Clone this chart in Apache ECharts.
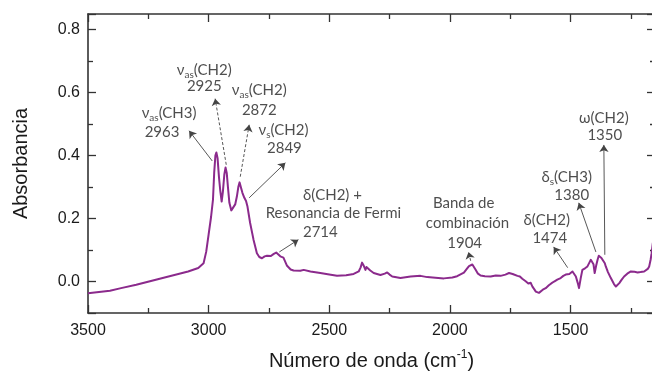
<!DOCTYPE html>
<html><head><meta charset="utf-8">
<script src="https://cdn.jsdelivr.net/npm/echarts@6/dist/echarts.min.js"></script>
<style>html,body{margin:0;padding:0;background:#fff}#c{width:652px;height:372px}</style>
</head><body><div id="c"></div>
<script>
// ---- data ----
const wavenumber = [3500,3409,3363,3300,3223,3150,3085,3043,3021,3010,3000,2990,2982,2977,2972,2968,2963,2957,2952,2946,2941,2935,2930,2925,2920,2914,2906,2898,2890,2883,2877,2872,2866,2860,2852,2845,2839,2828,2814,2800,2790,2779,2768,2758,2750,2742,2730,2720,2712,2703,2690,2675,2660,2648,2620,2606,2578,2537,2500,2468,2430,2399,2378,2370,2364,2357,2350,2346,2340,2330,2316,2288,2270,2260,2250,2239,2205,2163,2122,2094,2060,2025,1990,1970,1942,1930,1921,1907,1900,1894,1885,1873,1855,1831,1810,1790,1770,1755,1748,1740,1732,1720,1710,1700,1686,1675,1665,1658,1650,1644,1638,1631,1625,1615,1603,1590,1580,1568,1555,1541,1530,1520,1513,1505,1492,1485,1478,1470,1465,1458,1451,1440,1430,1422,1416,1410,1405,1400,1394,1388,1383,1379,1372,1365,1358,1354,1345,1333,1320,1312,1305,1298,1288,1278,1265,1250,1235,1222,1210,1195,1180,1174,1168,1164,1159,1150];
const absorbance = [-0.037,-0.029,-0.021,-0.010,0.005,0.019,0.032,0.043,0.058,0.095,0.150,0.205,0.260,0.345,0.400,0.410,0.392,0.330,0.290,0.254,0.285,0.340,0.362,0.345,0.300,0.250,0.226,0.232,0.245,0.270,0.300,0.315,0.312,0.282,0.266,0.256,0.238,0.186,0.133,0.090,0.078,0.074,0.080,0.082,0.078,0.081,0.088,0.092,0.086,0.080,0.076,0.050,0.038,0.035,0.034,0.037,0.032,0.027,0.022,0.018,0.020,0.024,0.032,0.045,0.060,0.050,0.037,0.046,0.042,0.035,0.027,0.021,0.025,0.029,0.022,0.016,0.011,0.016,0.018,0.014,0.012,0.010,0.013,0.017,0.028,0.040,0.049,0.054,0.048,0.038,0.026,0.019,0.017,0.016,0.019,0.018,0.022,0.027,0.030,0.024,0.027,0.018,0.016,0.009,0.001,-0.006,-0.004,-0.016,-0.025,-0.032,-0.038,-0.036,-0.030,-0.026,-0.021,-0.012,-0.006,0.000,0.006,0.011,0.018,0.022,0.027,0.024,0.032,0.028,0.016,-0.005,-0.021,0.010,0.037,0.042,0.048,0.060,0.069,0.071,0.055,0.027,0.050,0.069,0.082,0.088,0.075,0.069,0.058,0.048,0.030,0.011,-0.008,-0.016,-0.012,-0.005,0.006,0.016,0.025,0.032,0.031,0.029,0.030,0.032,0.040,0.048,0.070,0.090,0.122,0.150];

const xTickLabels = [3500, 3000, 2500, 2000, 1500];
const yTickLabels = [0.0, 0.2, 0.4, 0.6, 0.8];

// annotation text lines and their anchor (wavenumber, absorbance)
const annoText = ['{g|ν}{s|as}(CH3)','2963','{g|ν}{s|as}(CH2)','2925','{g|ν}{s|as}(CH2)','2872','{g|ν}{s|s}(CH2)','2849',
  'δ(CH2) +','Resonancia de Fermi','2714','Banda de','combinación','1904','δ(CH2)','1474','δ{s|s}(CH3)','1380','ω(CH2)','1350'];
const annoX = [3164,3193,3018,3018,2790,2790,2690,2686,2487,2483,2537,1943,1927,1939,1599,1586,1516,1495,1362,1358];
const annoY = [0.536,0.476,0.673,0.622,0.609,0.546,0.482,0.425,0.276,0.218,0.158,0.250,0.187,0.123,0.196,0.139,0.333,0.276,0.520,0.466];

// arrows: from (near band) to arrow head (near text)
const arrowFromX = [2985,2927,2869,2832,2707,1914,1512,1395,1358];
const arrowFromY = [0.383,0.371,0.333,0.266,0.094,0.066,0.044,0.094,0.085];
const arrowToX   = [3081,2973,2832,2682,2628,1923,1570,1466,1362];
const arrowToY   = [0.479,0.581,0.498,0.377,0.133,0.094,0.110,0.250,0.434];
const arrowDashed = [false,true,true,false,false,true,false,false,false];

// ---- chart ----
const chart = echarts.init(document.getElementById('c'), null, {renderer: 'canvas'});
const axisColor = '#333333';
const tickStyle = {color: axisColor, width: 1.3};
function xAx(pos, showLabels) {
  return {
    type: 'value', position: pos, min: 1150, max: 3500, inverse: true, splitNumber: 5,
    splitLine: {show: false},
    axisLine: {show: true, onZero: false, lineStyle: {color: axisColor, width: 1.6}},
    axisTick: {show: true, inside: true, length: 8, lineStyle: tickStyle},
    minorTick: {show: true, splitNumber: 2, length: 5, lineStyle: tickStyle},
    minorSplitLine: {show: false},
    axisLabel: showLabels ? {
      show: true, color: '#1a1a1a', fontSize: 16, fontFamily: 'Liberation Sans', margin: 10,
      formatter: v => xTickLabels.indexOf(v) >= 0 ? String(v) : ''
    } : {show: false}
  };
}
function yAx(pos, showLabels) {
  return {
    type: 'value', position: pos, min: -0.1, max: 0.85, splitNumber: 5,
    splitLine: {show: false},
    axisLine: {show: true, onZero: false, lineStyle: {color: axisColor, width: 1.6}},
    axisTick: {show: true, inside: true, length: 8, lineStyle: tickStyle},
    minorTick: {show: true, splitNumber: 2, length: 5, lineStyle: tickStyle},
    minorSplitLine: {show: false},
    axisLabel: showLabels ? {
      show: true, color: '#1a1a1a', fontSize: 16, fontFamily: 'Liberation Sans', margin: 8,
      formatter: v => yTickLabels.some(t => Math.abs(t - v) < 1e-9) ? v.toFixed(1) : ''
    } : {show: false}
  };
}
const xBottom = xAx('bottom', true);
xBottom.name = '{t|Número de onda (cm}{p|-1}{t|)}';
xBottom.nameLocation = 'middle';
xBottom.nameGap = 36;
xBottom.nameTextStyle = {rich: {
  t: {fontSize: 20, fontFamily: 'Liberation Sans', color: '#1a1a1a', lineHeight: 24},
  p: {fontSize: 12, fontFamily: 'Liberation Sans', color: '#1a1a1a', verticalAlign: 'top', lineHeight: 24}
}};
const yLeft = yAx('left', true);
yLeft.name = 'Absorbancia';
yLeft.nameLocation = 'middle';
yLeft.nameGap = 57;
yLeft.nameTextStyle = {fontSize: 20, fontFamily: 'Liberation Sans', color: '#1a1a1a'};

const annoFont = 'Lato';
const annoColor = '#222222';
const lines = arrowFromX.map((x, i) => [
  {coord: [x, arrowFromY[i]], symbol: 'none', lineStyle: {type: arrowDashed[i] ? [3, 2] : 'solid'}},
  {coord: [arrowToX[i], arrowToY[i]], symbol: 'arrow', symbolSize: 7}
]);

chart.setOption({
  animation: false,
  grid: {left: 88, right: -3, top: 14, bottom: 59, containLabel: false, outerBoundsMode: 'none'},
  xAxis: [xBottom, xAx('top', false)],
  yAxis: [yLeft, yAx('right', false)],
  series: [
    {
      type: 'line', xAxisIndex: 0, yAxisIndex: 0, showSymbol: false, symbol: 'none',
      data: wavenumber.map((w, i) => [w, absorbance[i]]),
      lineStyle: {color: '#8b2a8c', width: 2, join: 'round'}, z: 3
    },
    {
      type: 'scatter', xAxisIndex: 0, yAxisIndex: 0, symbolSize: 0, silent: true, z: 5,
      data: annoText.map((t, i) => ({value: [annoX[i], annoY[i]], label: {formatter: t}})),
      label: {
        show: true, position: 'inside', color: annoColor, fontSize: 15, fontFamily: annoFont, lineHeight: 20,
        rich: {
          g: {fontSize: 15, fontFamily: annoFont, color: annoColor, lineHeight: 20},
          s: {fontSize: 10, fontFamily: annoFont, color: annoColor, verticalAlign: 'bottom', lineHeight: 20}
        }
      },
      markLine: {
        silent: true, animation: false, symbol: ['none', 'arrow'], symbolSize: 7,
        label: {show: false},
        itemStyle: {color: '#333333'},
        lineStyle: {color: '#444444', width: 0.9, type: 'solid'},
        emphasis: {disabled: true},
        data: lines
      }
    }
  ]
});
</script>
</body></html>
